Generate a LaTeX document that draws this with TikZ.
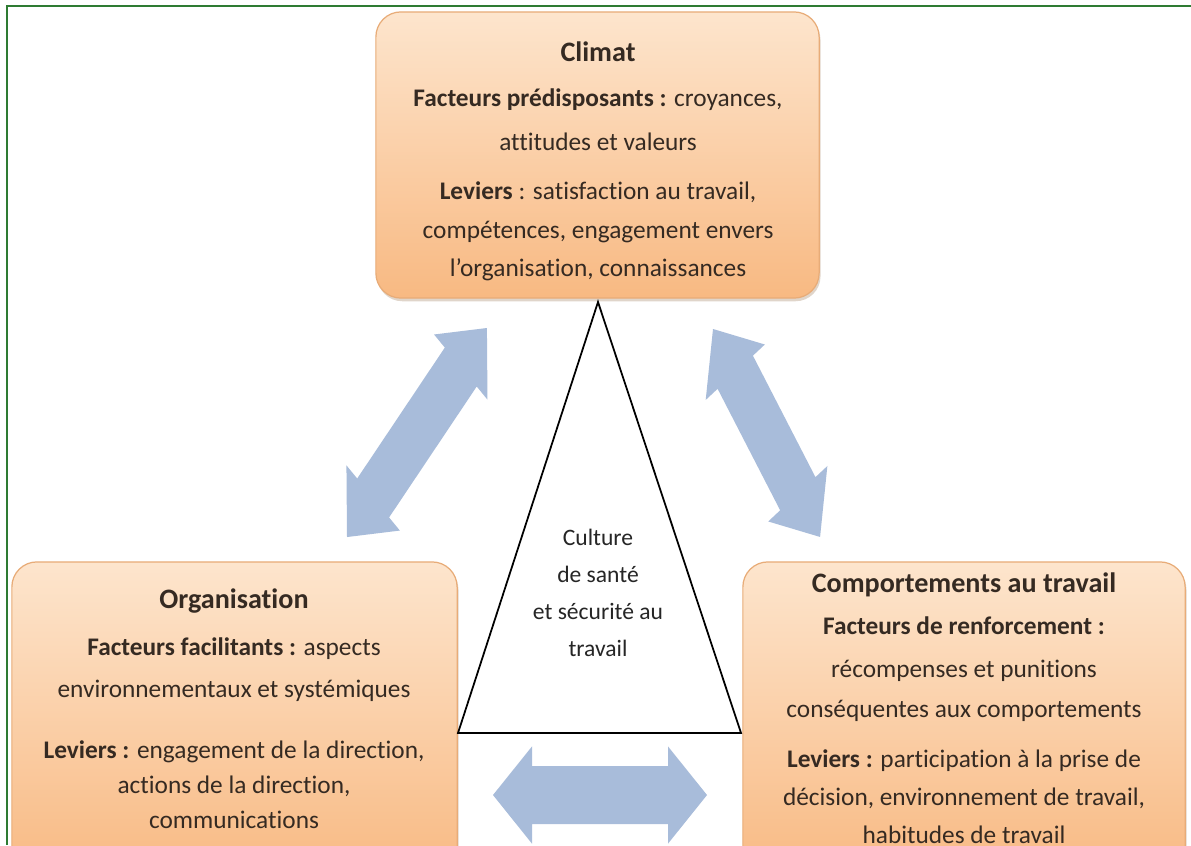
\documentclass[tikz,border=0pt]{standalone}
\usepackage{fontspec}
\setmainfont{Carlito}[Ligatures={TeX,NoCommon}]
\usetikzlibrary{shadows}
\definecolor{boxtop}{HTML}{FDE5CD}
\definecolor{boxbot}{HTML}{F8B982}
\definecolor{boxedge}{HTML}{E8AC78}
\definecolor{arrowblue}{HTML}{A8BCDA}
\definecolor{txt}{HTML}{352a22}
\definecolor{framegreen}{HTML}{2E7B32}
\tikzset{
  box/.style={rectangle, rounded corners=0.25cm, top color=boxtop, bottom color=boxbot,
    draw=boxedge, line width=0.35pt, inner sep=0pt,
    drop shadow={shadow xshift=0.4pt, shadow yshift=-0.9pt, opacity=0.25, fill=brown!70!black}},
  boxtext/.style={anchor=base, inner sep=0pt, text=txt},
  blockarrow/.style={fill=arrowblue},
  tri/.style={draw=black, line width=0.5pt, line join=miter},
  frameline/.style={draw=framegreen, line width=0.6pt},
}
\newcommand\ttl[1]{{\fontsize{8}{11}\selectfont\bfseries #1}}
\newcommand\dblarrowshape[1]{(0,0) -- (39,36) -- (39,21.5) -- (#1-39,21.5) -- (#1-39,36) -- (#1,0) -- (#1-39,-36) -- (#1-39,-21.5) -- (39,-21.5) -- (39,-36) -- cycle}
\begin{document}
\begin{tikzpicture}[x=0.01cm, y=-0.01cm]
\useasboundingbox (0,0) rectangle (1191,845);
\clip (0,0) rectangle (1191,845);
\fill[white] (0,0) rectangle (1191,845);

% boxes
\node[box, minimum width=4.43cm, minimum height=2.86cm] (climat) at (597.5,155) {};
\node[box, minimum width=4.45cm, minimum height=3.18cm] (organisation) at (234.5,721) {};
\node[box, minimum width=4.42cm, minimum height=3.18cm] (comportements) at (964,721) {};

% box texts
\node[boxtext, font=\fontsize{7.2}{11}\selectfont] (climatT) at (598,61) {\begin{tabular}[t]{@{}c@{}}\ttl{Climat}\\[2pt]
\textbf{Facteurs prédisposants :} croyances,\\[1.5pt]
attitudes et valeurs\\[2.9pt]
\textbf{Leviers} : satisfaction au travail,\\
compétences, engagement envers\\
l’organisation, connaissances\end{tabular}};

\node[boxtext, font=\fontsize{7.2}{10}\selectfont] (organisationT) at (234,608) {\begin{tabular}[t]{@{}c@{}}\ttl{Organisation}\\[3.4pt]
\textbf{Facteurs facilitants :} aspects\\[2pt]
environnementaux et systémiques\\[7.4pt]
\textbf{Leviers :} engagement de la direction,\\
actions de la direction,\\
communications\end{tabular}};

\node[boxtext, font=\fontsize{7.2}{10.8}\selectfont] (comportementsT) at (964,592) {\begin{tabular}[t]{@{}c@{}}\ttl{Comportements au travail}\\[1.4pt]
\textbf{Facteurs de renforcement :}\\[1.2pt]
récompenses et punitions\\[0.6pt]
conséquentes aux comportements\\[3.4pt]
\textbf{Leviers :} participation à la prise de\\
décision, environnement de travail,\\
habitudes de travail\end{tabular}};

% triangle
\coordinate (tA) at (598,302);
\coordinate (tB) at (458,733);
\coordinate (tC) at (741,733);
\draw[tri] (tA) -- (tB) -- (tC) -- cycle;
\node[anchor=base, inner sep=0pt, text=black!85, font=\fontsize{6.7}{10.6}\selectfont] (culture) at (598,545)
 {\begin{tabular}[t]{@{}c@{}}Culture\\de santé\\et sécurité au\\travail\end{tabular}};

% double arrows (drawn in an unstretched frame, then stretched vertically)
\begin{scope}[yscale=1.35]
  \fill[blockarrow, shift={(347,397.8)}, rotate=47.9] \dblarrowshape{208.7};
  \fill[blockarrow, shift={(713,243.7)}, rotate=-55.2] \dblarrowshape{187.6};
  \fill[blockarrow, shift={(493,588.9)}] \dblarrowshape{214};
\end{scope}

% frame
\draw[frameline] (7,845) -- (7,6) -- (1191,6);
\end{tikzpicture}
\end{document}
